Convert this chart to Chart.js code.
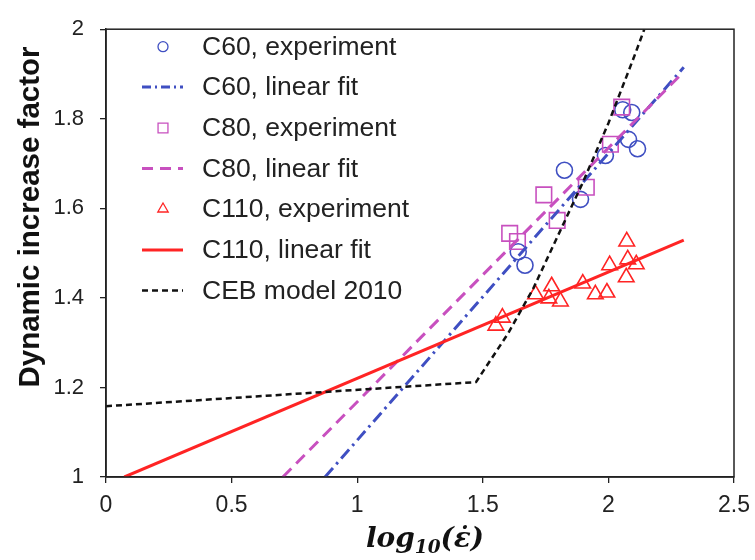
<!DOCTYPE html>
<html><head><meta charset="utf-8">
<script src="https://cdn.jsdelivr.net/npm/chart.js@4.4.1/dist/chart.umd.min.js"></script>
<style>html,body{margin:0;padding:0;background:#fff}#wrap{width:755px;height:560px}</style>
</head><body><div id="wrap"><canvas id="c" width="755" height="560"></canvas></div>
<script>
// ---- data ----
const c60X = [2.057, 2.093, 2.080, 2.116, 1.988, 1.825, 1.889, 1.641, 1.668];
const c60Y = [1.820, 1.814, 1.754, 1.733, 1.718, 1.685, 1.620, 1.503, 1.473];
const c80X = [2.053, 2.008, 1.912, 1.743, 1.796, 1.607, 1.638];
const c80Y = [1.826, 1.743, 1.647, 1.630, 1.573, 1.544, 1.526];
const c110X = [2.073, 2.005, 2.077, 2.111, 2.071, 1.898, 1.948, 1.994, 1.774, 1.710, 1.763, 1.809, 1.578, 1.552];
const c110Y = [1.526, 1.473, 1.486, 1.475, 1.446, 1.432, 1.408, 1.412, 1.426, 1.408, 1.399, 1.392, 1.356, 1.338];
const c60FitX = [0.872, 2.30];
const c60FitY = [1.000, 1.915];
const c80FitX = [0.704, 2.30];
const c80FitY = [1.000, 1.905];
const c110FitX = [0.073, 2.30];
const c110FitY = [1.000, 1.529];
const cebX = [0, 1.473, 1.60, 1.70, 1.80, 1.90, 2.00, 2.10, 2.143];
const cebY = [1.158, 1.212, 1.32, 1.42, 1.54, 1.66, 1.79, 1.935, 2.0];
const xTicks = [0, 0.5, 1, 1.5, 2, 2.5];
const yTicks = [1, 1.2, 1.4, 1.6, 1.8, 2];
const legendLabels = ['C60, experiment', 'C60, linear fit', 'C80, experiment', 'C80, linear fit',
                      'C110, experiment', 'C110, linear fit', 'CEB model 2010'];
const yTitle = 'Dynamic increase factor';
const xTitleParts = ['log', '10', '(\u03B5\u0307)'];

// ---- styles ----
const BLUE = '#3f4fc2', PINK = '#c850bf', RED = '#ff2424', BLACK = '#111111';
const pts = (xs, ys) => xs.map((x, i) => ({x: x, y: ys[i]}));

const lineDs = (label, xs, ys, color, dash, w) => ({
  label, data: pts(xs, ys), showLine: true, borderColor: color, borderWidth: w,
  borderDash: dash, pointRadius: 0, pointHoverRadius: 0, fill: false, tension: 0
});
const markDs = (label, xs, ys, color, style, r) => ({
  label, data: pts(xs, ys), showLine: false, pointStyle: style, pointRadius: r,
  pointHoverRadius: r, pointBorderColor: color, pointBackgroundColor: 'rgba(0,0,0,0)',
  pointBorderWidth: 1.6, borderColor: color
});

const legendStyle = [
  {type: 'mark', style: 'circle', color: BLUE, r: 5},
  {type: 'line', color: BLUE, dash: [9, 4, 2, 4], w: 3},
  {type: 'mark', style: 'rect', color: PINK, r: 7},
  {type: 'line', color: PINK, dash: [11, 7], w: 3},
  {type: 'mark', style: 'triangle', color: RED, r: 6},
  {type: 'line', color: RED, dash: [], w: 3},
  {type: 'line', color: BLACK, dash: [6, 4], w: 2.5}
];

const deco = {
  id: 'deco',
  afterDraw(chart) {
    const ctx = chart.ctx, a = chart.chartArea;
    ctx.save();
    // frame
    ctx.strokeStyle = '#222'; ctx.lineWidth = 1.5; ctx.setLineDash([]);
    ctx.strokeRect(a.left, a.top, a.right - a.left, a.bottom - a.top);
    // legend
    const rowY = [46.7, 87, 128, 168.5, 209, 250, 290.5];
    legendStyle.forEach((s, i) => {
      const y = rowY[i];
      ctx.save();
      if (s.type === 'line') {
        ctx.strokeStyle = s.color; ctx.lineWidth = s.w; ctx.setLineDash(s.dash);
        ctx.beginPath(); ctx.moveTo(142, y); ctx.lineTo(183, y); ctx.stroke();
      } else {
        ctx.strokeStyle = s.color; ctx.fillStyle = 'rgba(0,0,0,0)'; ctx.lineWidth = 1.3;
        Chart.helpers.drawPoint(ctx, {pointStyle: s.style, radius: s.r, borderWidth: 1.3}, 163, y);
      }
      ctx.restore();
      ctx.fillStyle = '#222'; ctx.font = '26.5px "Liberation Sans", Arial, sans-serif';
      ctx.textBaseline = 'middle'; ctx.textAlign = 'left';
      ctx.fillText(legendLabels[i], 202, y + 1);
    });
    // y title
    ctx.save();
    ctx.translate(31, 217); ctx.rotate(-Math.PI / 2);
    ctx.font = 'bold 29.5px "Liberation Sans", Arial, sans-serif';
    ctx.fillStyle = '#111'; ctx.textAlign = 'center'; ctx.textBaseline = 'middle';
    ctx.fillText(yTitle, 0, 0);
    ctx.restore();
    // x title
    const big = 'bold italic 28px "DejaVu Serif", serif';
    const small = 'bold italic 18.5px "DejaVu Serif", serif';
    ctx.font = big; const w0 = ctx.measureText(xTitleParts[0]).width;
    const w2 = ctx.measureText(xTitleParts[2]).width;
    ctx.font = small; const w1 = ctx.measureText(xTitleParts[1]).width;
    const total = w0 + w1 + w2;
    let x = (a.left + a.right) / 2 - total / 2 + 5;
    const base = 547;
    ctx.fillStyle = '#111'; ctx.textBaseline = 'alphabetic'; ctx.textAlign = 'left';
    ctx.font = big; ctx.fillText(xTitleParts[0], x, base); x += w0;
    ctx.font = small; ctx.fillText(xTitleParts[1], x, base + 6); x += w1;
    ctx.font = big; ctx.fillText(xTitleParts[2], x, base);
    ctx.restore();
  }
};

new Chart(document.getElementById('c'), {
  type: 'scatter',
  data: {
    datasets: [
      lineDs(legendLabels[6], cebX, cebY, BLACK, [6, 4], 2.5),
      lineDs(legendLabels[5], c110FitX, c110FitY, RED, [], 3),
      lineDs(legendLabels[3], c80FitX, c80FitY, PINK, [12, 7], 3),
      lineDs(legendLabels[1], c60FitX, c60FitY, BLUE, [12, 5, 2.5, 5], 3),
      markDs(legendLabels[4], c110X, c110Y, RED, 'triangle', 9),
      markDs(legendLabels[2], c80X, c80Y, PINK, 'rect', 11),
      markDs(legendLabels[0], c60X, c60Y, BLUE, 'circle', 8)
    ]
  },
  options: {
    responsive: false, animation: false, devicePixelRatio: 1,
    layout: {padding: {top: 17, right: 21, left: 0, bottom: 0}},
    plugins: {legend: {display: false}, tooltip: {enabled: false}},
    scales: {
      x: {
        type: 'linear', min: 0, max: 2.5,
        afterBuildTicks: s => { s.ticks = xTicks.map(v => ({value: v})); },
        afterFit: s => { s.height = 83; },
        grid: {drawOnChartArea: false, drawTicks: true, tickLength: 6, color: '#222', lineWidth: 1.3},
        border: {display: true, color: '#222', width: 1.5},
        ticks: {color: '#222', padding: 4, maxRotation: 0,
                font: {size: 23, lineHeight: 1.62, family: '"Liberation Sans", Arial, sans-serif'},
                callback: v => String(v)}
      },
      y: {
        type: 'linear', min: 1, max: 2,
        afterBuildTicks: s => { s.ticks = yTicks.map(v => ({value: v})); },
        afterFit: s => { s.width = 106; },
        grid: {drawOnChartArea: false, drawTicks: true, tickLength: 6, color: '#222', lineWidth: 1.3},
        border: {display: true, color: '#222', width: 1.5},
        ticks: {color: '#222', padding: 16,
                font: {size: 22, family: '"Liberation Sans", Arial, sans-serif'},
                callback: v => String(Math.round(v * 10) / 10)}
      }
    }
  },
  plugins: [deco]
});
</script></body></html>
